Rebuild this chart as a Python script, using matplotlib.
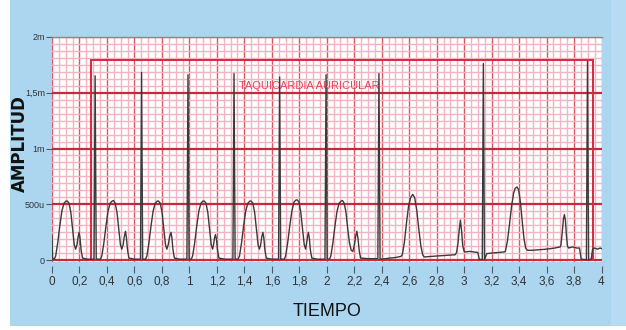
import numpy as np
import matplotlib
matplotlib.use('Agg')
import matplotlib.pyplot as plt
from matplotlib.patches import Rectangle

# ECG trace (time in s, amplitude in mV)
ecg_time = [
    0.000, 0.004, 0.017, 0.027, 0.042, 0.057, 0.072, 0.087, 0.102, 0.112, 0.124, 0.137,
    0.150, 0.162, 0.172, 0.182, 0.190, 0.197, 0.204, 0.212, 0.222, 0.260, 0.306,
    0.314, 0.322,
    0.353, 0.363, 0.378, 0.393, 0.408, 0.423, 0.438, 0.448, 0.460, 0.473, 0.486, 0.498,
    0.508, 0.518, 0.526, 0.535, 0.542, 0.550, 0.560,
    0.600, 0.644, 0.652, 0.660,
    0.681, 0.691, 0.706, 0.721, 0.736, 0.751, 0.766, 0.776, 0.788, 0.801, 0.814, 0.826,
    0.836, 0.846, 0.856, 0.866, 0.873, 0.881, 0.891,
    0.930, 0.982, 0.990, 0.998,
    1.014, 1.024, 1.039, 1.054, 1.069, 1.084, 1.099, 1.109, 1.121, 1.134, 1.147, 1.159,
    1.169, 1.176, 1.183, 1.190, 1.197, 1.205, 1.215,
    1.260, 1.317, 1.325, 1.333,
    1.355, 1.365, 1.380, 1.395, 1.410, 1.425, 1.440, 1.450, 1.462, 1.475, 1.488, 1.500,
    1.510, 1.519, 1.527, 1.535, 1.542, 1.550, 1.560,
    1.600, 1.649, 1.657, 1.665,
    1.691, 1.701, 1.716, 1.731, 1.746, 1.761, 1.776, 1.786, 1.798, 1.811, 1.824, 1.836,
    1.846, 1.853, 1.860, 1.866, 1.873, 1.881, 1.891,
    1.930, 1.987, 1.995, 2.003,
    2.020, 2.030, 2.045, 2.060, 2.075, 2.090, 2.105, 2.115, 2.127, 2.140, 2.152, 2.165,
    2.178, 2.190, 2.200, 2.210, 2.219, 2.227, 2.236, 2.246,
    2.300, 2.372, 2.380, 2.388,
    2.410, 2.460, 2.500, 2.540, 2.550, 2.565, 2.580, 2.595, 2.610, 2.626, 2.640, 2.655,
    2.670, 2.685, 2.698, 2.710,
    2.760, 2.820, 2.880, 2.935, 2.945, 2.955, 2.965, 2.973, 2.981, 2.990, 3.000, 3.007,
    3.040, 3.070, 3.100, 3.110, 3.132, 3.140, 3.148, 3.165, 3.200, 3.250, 3.290,
    3.300, 3.315, 3.330, 3.345, 3.360, 3.372, 3.385, 3.397, 3.410, 3.422, 3.435, 3.448, 3.460,
    3.500, 3.550, 3.600, 3.660, 3.700, 3.705, 3.715, 3.723, 3.730, 3.737, 3.745, 3.752, 3.760,
    3.790, 3.820, 3.840, 3.852, 3.890, 3.898, 3.906, 3.925, 3.935, 3.950, 3.970, 3.990, 4.000,
]
ecg_mv = [
    0.22, 0.02, 0.01, 0.04, 0.16, 0.31, 0.44, 0.51, 0.53, 0.53, 0.51, 0.43,
    0.28, 0.14, 0.10, 0.14, 0.21, 0.25, 0.20, 0.09, 0.02, 0.01, 0.01,
    1.65, 0.01,
    0.01, 0.04, 0.16, 0.31, 0.44, 0.51, 0.53, 0.535, 0.51, 0.43, 0.28, 0.14,
    0.10, 0.14, 0.21, 0.26, 0.20, 0.09, 0.02,
    0.01, 0.01, 1.68, 0.01,
    0.01, 0.04, 0.16, 0.31, 0.44, 0.51, 0.53, 0.53, 0.51, 0.43, 0.28, 0.14,
    0.10, 0.14, 0.21, 0.25, 0.20, 0.09, 0.02,
    0.01, 0.01, 1.66, 0.01,
    0.01, 0.04, 0.16, 0.31, 0.44, 0.51, 0.53, 0.53, 0.51, 0.43, 0.28, 0.14,
    0.10, 0.14, 0.20, 0.23, 0.19, 0.09, 0.02,
    0.01, 0.01, 1.67, 0.01,
    0.01, 0.04, 0.16, 0.31, 0.44, 0.51, 0.53, 0.53, 0.51, 0.43, 0.28, 0.14,
    0.10, 0.14, 0.21, 0.25, 0.20, 0.09, 0.02,
    0.01, 0.01, 1.64, 0.01,
    0.01, 0.04, 0.16, 0.31, 0.44, 0.52, 0.54, 0.54, 0.52, 0.43, 0.28, 0.14,
    0.10, 0.15, 0.21, 0.25, 0.20, 0.09, 0.02,
    0.01, 0.01, 1.66, 0.01,
    0.01, 0.04, 0.16, 0.31, 0.44, 0.51, 0.53, 0.535, 0.51, 0.43, 0.29, 0.16,
    0.09, 0.08, 0.13, 0.21, 0.26, 0.20, 0.09, 0.02,
    0.015, 0.015, 1.67, 0.01,
    0.012, 0.02, 0.025, 0.035, 0.05, 0.16, 0.33, 0.48, 0.56, 0.59, 0.56, 0.45,
    0.28, 0.13, 0.05, 0.03,
    0.035, 0.04, 0.045, 0.05, 0.07, 0.15, 0.28, 0.36, 0.27, 0.13, 0.08, 0.075,
    0.08, 0.075, 0.07, 0.01, 0.005, 1.76, 0.005, 0.06, 0.065, 0.07, 0.075,
    0.08, 0.17, 0.32, 0.48, 0.60, 0.645, 0.655, 0.63, 0.52, 0.36, 0.20, 0.11, 0.09,
    0.09, 0.095, 0.10, 0.11, 0.12, 0.14, 0.26, 0.37, 0.41, 0.36, 0.22, 0.13, 0.11,
    0.12, 0.11, 0.11, 0.01, 0.005, 1.78, 0.005, 0.01, 0.10, 0.11, 0.10, 0.11, 0.105,
]

x_ticks = [0, 0.2, 0.4, 0.6, 0.8, 1, 1.2, 1.4, 1.6, 1.8, 2, 2.2, 2.4, 2.6, 2.8, 3, 3.2, 3.4, 3.6, 3.8, 4]
x_labels = ['0', '0,2', '0,4', '0,6', '0,8', '1', '1,2', '1,4', '1,6', '1,8', '2',
            '2,2', '2,4', '2,6', '2,8', '3', '3,2', '3,4', '3,6', '3,8', '4']
y_ticks = [0, 0.5, 1, 1.5, 2]
y_labels = ['0', '500u', '1m', '1,5m', '2m']

# box marking the arrhythmia: time range and amplitude range
box_time = [0.285, 3.94]
box_mv = [0, 1.795]
box_label = 'TAQUICARDIA AURICULAR'

narrow = ['Liberation Sans Narrow', 'Liberation Sans', 'DejaVu Sans']

fig = plt.figure(figsize=(6.26, 3.30), dpi=100, facecolor='white')
# blue panel behind the graph
fig.patches.append(Rectangle((10 / 626, 4 / 330), 1, 1, transform=fig.transFigure,
                             facecolor='#acd6f0', edgecolor='none', zorder=0))
fig.patches.append(Rectangle((611 / 626, 4 / 330), 1, 1, transform=fig.transFigure,
                             facecolor='#b6dbf2', edgecolor='none', zorder=0))

ax = fig.add_axes([52 / 626, 1 - 262 / 330, 549.5 / 626, 225.3 / 330])
ax.set_zorder(2)
ax.set_facecolor('white')
ax.set_xlim(0, 4)
ax.set_ylim(-0.015, 2)

ax.set_xticks(x_ticks)
ax.set_xticklabels(x_labels)
ax.set_xticks(np.arange(0, 4.001, 0.05), minor=True)
ax.set_yticks(y_ticks)
ax.set_yticklabels(y_labels)
ax.set_yticks(np.arange(0, 2.001, 0.0625), minor=True)

ax.grid(which='minor', color='#f4b4c4', linewidth=1.0, zorder=0)
ax.xaxis.grid(which='major', color='#df5666', linewidth=1.0)
ax.yaxis.grid(which='major', color='#c8283c', linewidth=1.6)
ax.set_axisbelow(True)

ax.tick_params(which='minor', length=0)
ax.tick_params(axis='x', which='major', direction='out', length=5, width=0.8,
               color='#4a5a6a', labelcolor='#333333', pad=2,
               labelsize=8.5, labelfontfamily=narrow)
ax.tick_params(axis='y', which='major', direction='out', length=4, width=0.8,
               color='#4a5a6a', labelcolor='#333333', pad=1,
               labelsize=6.5, labelfontfamily=narrow)

for side in ['left', 'right', 'bottom']:
    ax.spines[side].set_visible(False)
ax.spines['bottom'].set_position(('outward', 3))
ax.spines['top'].set_color('#8a8a8a')
ax.spines['top'].set_linewidth(1.0)

ax.add_patch(Rectangle((box_time[0], box_mv[0]), box_time[1] - box_time[0],
                       box_mv[1] - box_mv[0], fill=False, edgecolor='#d8283f',
                       linewidth=1.4, zorder=2, clip_on=False))
ax.text(1.87, 1.56, box_label, color='#e8475a', fontsize=8, family=narrow,
        ha='center', va='center', zorder=3)

ax.plot(ecg_time, ecg_mv, color='#3a3a3a', linewidth=1.0, zorder=4)

fig.text(19.5 / 626, 1 - 144 / 330, 'AMPLITUD', rotation=90, ha='center', va='center',
         fontsize=12, fontweight='bold', color='#111111', family='DejaVu Sans')
fig.text(327 / 626, 1 - 311 / 330, 'TIEMPO', ha='center', va='center',
         fontsize=13, color='#111111', family=narrow)

fig.savefig('out.png', dpi=100, facecolor=fig.get_facecolor())
